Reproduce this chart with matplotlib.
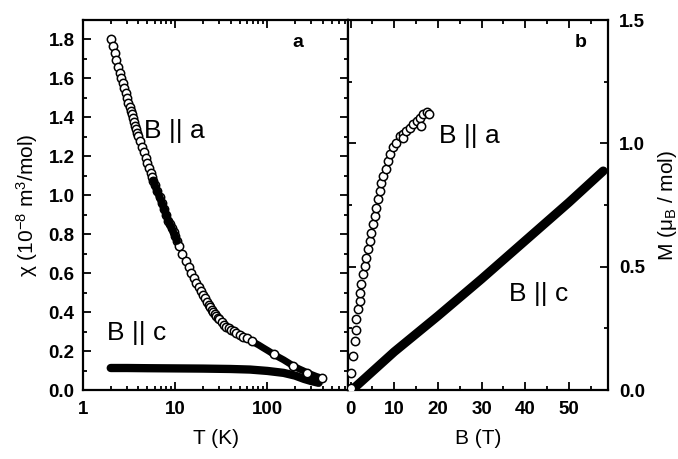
import numpy as np
import matplotlib
matplotlib.use("Agg")
import matplotlib.pyplot as plt
from matplotlib.ticker import MultipleLocator, LogLocator, NullFormatter, FixedLocator

plt.rcParams["font.family"] = ["Liberation Sans", "DejaVu Sans"]
plt.rcParams["mathtext.fontset"] = "custom"
plt.rcParams["mathtext.rm"] = "Liberation Sans"
plt.rcParams["mathtext.it"] = "Liberation Sans"

# susceptibility, B || a  (T in K, chi in 1e-8 m^3/mol)
temp_a = [2.0, 2.1, 2.2, 2.3, 2.4, 2.5, 2.6, 2.7, 2.8, 2.9, 3.0, 3.1, 3.2, 3.3, 3.4,
          3.5, 3.6, 3.7, 3.8, 3.9, 4.0, 4.2, 4.4, 4.6, 4.8, 5.0, 5.2, 5.4, 5.6, 5.8,
          6.0, 6.4, 6.8, 7.2, 7.6, 8.0, 8.4, 8.8, 9.2, 9.6, 10.0, 10.5,
          11, 12, 13, 14, 15, 16, 17, 18, 19, 20, 21, 22, 23, 24, 25, 26, 27, 28, 29,
          30, 32, 34, 36, 38, 40, 43, 46, 50, 55, 60,
          68, 80, 90, 100, 117, 130, 150, 170, 192, 220, 245, 270, 300, 340, 394]
chi_a = [1.80, 1.765, 1.73, 1.695, 1.66, 1.63, 1.60, 1.575, 1.55, 1.525, 1.50, 1.475,
         1.455, 1.435, 1.415, 1.395, 1.375, 1.355, 1.34, 1.32, 1.305, 1.28, 1.25, 1.22,
         1.19, 1.165, 1.14, 1.115, 1.095, 1.075, 1.055, 1.02, 0.99, 0.96, 0.93, 0.90,
         0.87, 0.85, 0.83, 0.81, 0.79, 0.765,
         0.74, 0.70, 0.665, 0.632, 0.602, 0.575, 0.55, 0.528, 0.507, 0.488, 0.47, 0.454,
         0.439, 0.425, 0.412, 0.40, 0.39, 0.38, 0.371,
         0.363, 0.348, 0.336, 0.326, 0.317, 0.31, 0.301, 0.293, 0.284, 0.274, 0.265,
         0.25, 0.232, 0.217, 0.204, 0.184, 0.171, 0.155, 0.139, 0.123, 0.109, 0.099,
         0.089, 0.08, 0.07, 0.06]

# susceptibility, B || c
temp_c = [2.0, 3, 5, 10, 20, 40, 65, 100, 150, 200, 250, 300, 360]
chi_c = [0.113, 0.113, 0.112, 0.111, 0.110, 0.108, 0.105, 0.098, 0.088, 0.074, 0.057,
         0.046, 0.037]

# magnetization, B || a  (B in T, M in mu_B/mol)
field_a = [0.1, 0.18, 0.55, 0.94, 1.17, 1.32, 1.7, 2.09, 2.24, 2.47, 2.85, 3.23, 3.62,
           4.0, 4.38, 4.77, 5.15, 5.53, 5.92, 6.3, 6.67, 7.06, 7.44, 8.05, 8.58, 9.13,
           9.73, 10.5, 11.26, 12.0, 12.0, 12.8, 13.55, 14.3, 15.1, 15.85, 16.2, 16.6,
           17.5, 18.0]
mag_a = [0.01, 0.07, 0.138, 0.199, 0.242, 0.287, 0.327, 0.361, 0.394, 0.431, 0.469,
         0.503, 0.536, 0.57, 0.604, 0.638, 0.672, 0.705, 0.739, 0.773, 0.807, 0.84,
         0.867, 0.894, 0.928, 0.955, 0.985, 1.003, 1.03, 1.036, 1.02, 1.05, 1.063,
         1.077, 1.09, 1.104, 1.07, 1.117, 1.128, 1.12]

# magnetization, B || c
field_c = [0.3, 10, 20, 30, 40, 50, 57.9]
mag_c = [0.0, 0.155, 0.300, 0.450, 0.605, 0.760, 0.888]

fig = plt.figure(figsize=(6.78, 4.59), dpi=100)
ax1 = fig.add_axes([0.1224, 0.1503, 0.3909, 0.8061])
ax2 = fig.add_axes([0.5133, 0.1503, 0.3835, 0.8061])

tick_font = dict(family="Liberation Sans", weight="bold", size=13.5)
for ax in (ax1, ax2):
    for s in ax.spines.values():
        s.set_linewidth(1.6)
    ax.tick_params(which="both", direction="in", top=True, width=1.3, pad=6)
    ax.tick_params(which="major", length=5.5)
    ax.tick_params(which="minor", length=3)

# ---- panel a
T_a = np.array(temp_a)
X_a = np.array(chi_a)
ax1.plot(temp_c, chi_c, "-", color="black", lw=6, solid_capstyle="round", zorder=2)
band = T_a >= 60
ax1.plot(T_a[band], X_a[band], "-", color="black", lw=5, solid_capstyle="round", zorder=2)
circ = (T_a <= 60) | np.isin(T_a, [68, 117, 192, 270, 394])
ax1.plot(T_a[circ], X_a[circ], "o", mfc="white", mec="black", ms=6, mew=1.1, zorder=3)
dense = (T_a >= 5.8) & (T_a <= 10.5)
ax1.plot(T_a[dense], X_a[dense], "-", color="black", lw=5.5, solid_capstyle="round", zorder=4)

ax1.set_xscale("log")
ax1.set_xlim(1, 750)
ax1.set_ylim(0, 1.9)
ax1.xaxis.set_major_locator(FixedLocator([1, 10, 100]))
ax1.xaxis.set_minor_locator(LogLocator(base=10, subs=np.arange(2, 10)))
ax1.xaxis.set_minor_formatter(NullFormatter())
ax1.set_xticklabels(["1", "10", "100"], **tick_font)
ax1.yaxis.set_minor_locator(MultipleLocator(0.1))
ax1.set_yticks(np.arange(0, 1.81, 0.2))
ax1.set_yticklabels([f"{v:.1f}" for v in np.arange(0, 1.81, 0.2)], **tick_font)
ax1.tick_params(which="both", right=True)
ax1.tick_params(axis="x", pad=8)
ax1.set_xlabel("T (K)", fontsize=15, labelpad=8)
ax1.set_ylabel(r"$\chi$ (10$^{-8}$ m$^3$/mol)", fontsize=15, labelpad=6)

ax1.text(4.6, 1.33, "B || a", fontsize=19, va="center", ha="left")
ax1.text(1.8, 0.295, "B || c", fontsize=19, va="center", ha="left")
ax1.text(0.79, 0.94, "a", transform=ax1.transAxes, fontsize=14, weight="bold",
         ha="left", va="center")

# ---- panel b
ax2.plot(field_c, mag_c, "-", color="black", lw=6.5, solid_capstyle="round", zorder=2)
ax2.plot(field_a, mag_a, "o", mfc="white", mec="black", ms=6, mew=1.1, zorder=3)
ax2.set_xlim(-0.6, 59)
ax2.set_ylim(0, 1.5)
ax2.xaxis.set_minor_locator(MultipleLocator(5))
ax2.set_xticks([0, 10, 20, 30, 40, 50])
ax2.set_xticklabels(["0", "10", "20", "30", "40", "50"], **tick_font)
ax2.yaxis.tick_right()
ax2.yaxis.set_label_position("right")
ax2.set_yticks([0, 0.5, 1.0, 1.5])
ax2.yaxis.set_minor_locator(MultipleLocator(0.25))
ax2.set_yticklabels(["0.0", "0.5", "1.0", "1.5"], **tick_font)
ax2.tick_params(which="both", left=True, right=True, labelleft=False)
ax2.tick_params(axis="x", pad=8)
ax2.tick_params(axis="y", pad=8)
ax2.set_xlabel("B (T)", fontsize=15, labelpad=8)
ax2.set_ylabel(r"M ($\mu_B$ / mol)", fontsize=15, labelpad=8)

ax2.text(20.2, 1.03, "B || a", fontsize=19, va="center", ha="left")
ax2.text(36.2, 0.39, "B || c", fontsize=19, va="center", ha="left")
ax2.text(0.87, 0.94, "b", transform=ax2.transAxes, fontsize=14, weight="bold",
         ha="left", va="center")

fig.savefig("out.png", dpi=100)
